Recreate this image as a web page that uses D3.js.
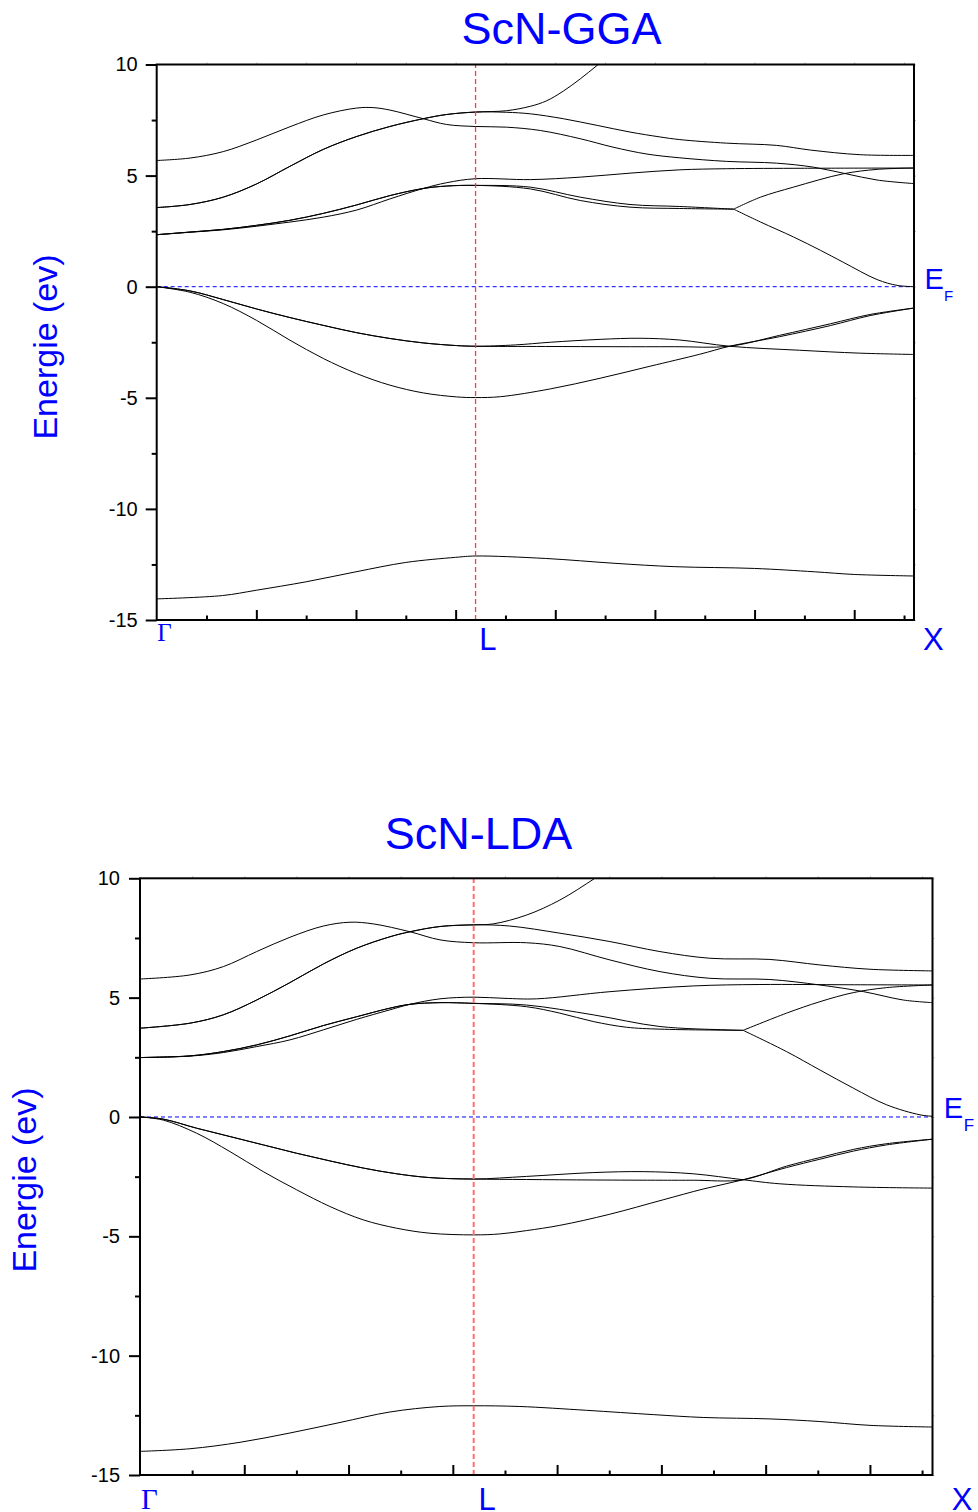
<!DOCTYPE html>
<html><head><meta charset="utf-8">
<script src="https://cdn.jsdelivr.net/npm/d3@7"></script>
<style>body{margin:0;background:#fff} svg{display:block}</style>
</head><body>
<script>
// ---------------- DATA ----------------
const yMajorTicks = [-15, -10, -5, 0, 5, 10];
const yMinorTicks = [-12.5, -7.5, -2.5, 2.5, 7.5];
const kMajorTicks = [1, 2, 3, 4, 5, 6, 7];
const kMinorTicks = [0.5, 1.5, 2.5, 3.5, 4.5, 5.5, 6.5, 7.5];
const kPointNames = ["Γ", "L", "X"];
const kPointPos = [0, 3.2, 7.6];
const titles = ["ScN-GGA", "ScN-LDA"];

// ---- GGA ----
const gga_core = [[0,-14.05],[0.66,-13.9],[1,-13.66],[1.5,-13.28],[2,-12.83],[2.5,-12.41],[3,-12.18],[3.2,-12.12],[3.9,-12.23],[4.6,-12.45],[5.2,-12.6],[6,-12.68],[6.6,-12.83],[7,-12.95],[7.6,-13.02]];
const gga_vGL_heavy = [[0,0],[0.335,-0.19],[0.668,-0.58],[1.0,-1.0],[1.338,-1.39],[1.672,-1.74],[2.007,-2.07],[2.34,-2.33],[2.675,-2.53],[3.01,-2.65],[3.2,-2.68]];
const gga_vGL_low = [[0,0],[0.335,-0.25],[0.668,-0.76],[1.0,-1.51],[1.338,-2.41],[1.672,-3.23],[2.007,-3.91],[2.34,-4.43],[2.675,-4.78],[3.01,-4.96],[3.2,-4.99]];
const gga_vLX_1 = [[3.2,-2.68],[3.9,-2.69],[4.6,-2.7],[5.2,-2.7],[5.75,-2.68],[6.25,-2.19],[6.76,-1.67],[7.16,-1.25],[7.6,-0.96]];
const gga_vLX_2 = [[3.2,-2.68],[3.6,-2.62],[3.95,-2.5],[4.45,-2.37],[4.85,-2.32],[5.25,-2.4],[5.75,-2.68],[6.45,-2.86],[7.05,-2.99],[7.6,-3.05]];
const gga_vLX_3 = [[3.2,-4.99],[3.45,-4.95],[3.95,-4.6],[4.45,-4.12],[4.95,-3.58],[5.45,-3.04],[5.75,-2.68],[6.25,-2.25],[6.76,-1.75],[7.16,-1.3],[7.6,-0.96]];
const gga_cGL_1 = [[0,5.68],[0.335,5.79],[0.668,6.08],[1.0,6.6],[1.338,7.2],[1.672,7.73],[2.007,8.04],[2.17,8.06],[2.34,7.95],[2.675,7.56],[2.91,7.30],[3.2,7.21]];
const gga_cGL_2 = [[0,3.56],[0.335,3.70],[0.668,4.03],[1.0,4.62],[1.338,5.42],[1.672,6.18],[2.007,6.76],[2.34,7.21],[2.675,7.56],[2.91,7.75],[3.2,7.86]];
const gga_cGL_3a = [[0,2.34],[0.335,2.46],[0.668,2.58],[1.0,2.76],[1.338,2.99],[1.672,3.3],[2.007,3.68],[2.34,4.1],[2.675,4.42],[2.91,4.53],[3.2,4.56]];
const gga_cGL_3b = [[0,2.34],[0.335,2.45],[0.668,2.56],[1.0,2.72],[1.338,2.91],[1.672,3.13],[2.007,3.45],[2.34,3.95],[2.675,4.42],[2.91,4.68],[3.2,4.86]];
const gga_cLX_1 = [[3.2,7.21],[3.51,7.18],[3.85,7.03],[4.25,6.66],[4.58,6.28],[4.92,5.97],[5.25,5.8],[5.72,5.64],[6.22,5.56],[6.59,5.38],[6.92,5.08],[7.23,4.8],[7.6,4.64]];
const gga_cLX_2up = [[3.2,7.86],[3.51,7.92],[3.75,8.12],[3.91,8.36],[4.08,8.8],[4.25,9.35],[4.42,9.96],[4.6,10.6]];
const gga_cLX_2a = [[3.2,7.86],[3.51,7.85],[3.75,7.78],[4.08,7.56],[4.42,7.26],[4.75,6.96],[5.05,6.74],[5.25,6.62],[5.72,6.46],[6.22,6.36],[6.56,6.15],[7.06,5.94],[7.6,5.91]];
const gga_cLX_3b = [[3.2,4.86],[3.75,4.82],[4.25,4.93],[4.75,5.11],[5.25,5.26],[5.72,5.31],[6.5,5.33],[7.6,5.34]];
const gga_cLX_3a1 = [[3.2,4.56],[3.75,4.48],[4.25,4.03],[4.75,3.7],[5.25,3.61],[5.79,3.49]];
const gga_cLX_3a2 = [[3.2,4.56],[3.75,4.4],[4.25,3.88],[4.75,3.58],[5.25,3.52],[5.79,3.49]];
const gga_cLX_dUp = [[5.79,3.49],[6.06,4.03],[6.39,4.48],[6.89,5.08],[7.23,5.28],[7.6,5.34]];
const gga_cLX_dDown = [[5.79,3.49],[6.06,2.91],[6.39,2.24],[6.66,1.64],[6.89,1.1],[7.23,0.32],[7.43,0.06],[7.6,0.0]];

// ---- LDA ----
const lda_core = [[0,-14.01],[0.479,-13.9],[0.959,-13.63],[1.438,-13.24],[1.918,-12.8],[2.397,-12.36],[2.876,-12.13],[3.2,-12.1],[3.643,-12.13],[4.283,-12.29],[4.922,-12.47],[5.401,-12.59],[6.04,-12.65],[6.52,-12.76],[7.0,-12.92],[7.6,-12.99]];
const lda_vGL_heavy = [[0,0],[0.223,-0.09],[0.543,-0.47],[0.863,-0.82],[1.182,-1.17],[1.502,-1.52],[1.821,-1.84],[2.141,-2.14],[2.461,-2.38],[2.78,-2.54],[3.2,-2.6]];
const lda_vGL_low = [[0,0],[0.223,-0.13],[0.543,-0.68],[0.863,-1.45],[1.182,-2.29],[1.502,-3.05],[1.821,-3.75],[2.141,-4.31],[2.461,-4.66],[2.78,-4.87],[3.2,-4.94]];
const lda_vLX_1 = [[3.2,-2.6],[3.707,-2.62],[4.346,-2.64],[5.017,-2.65],[5.305,-2.65],[5.784,-2.63],[6.2,-2.06],[6.52,-1.7],[6.84,-1.36],[7.16,-1.12],[7.6,-0.93]];
const lda_vLX_2 = [[3.2,-2.6],[3.707,-2.49],[4.346,-2.33],[4.825,-2.29],[5.305,-2.38],[5.784,-2.63],[6.136,-2.8],[6.84,-2.93],[7.6,-2.98]];
const lda_vLX_3 = [[3.2,-4.94],[3.45,-4.9],[3.707,-4.76],[4.027,-4.54],[4.5,-4.08],[5.017,-3.47],[5.4,-3.02],[5.784,-2.63],[6.2,-2.12],[6.52,-1.77],[6.84,-1.43],[7.16,-1.17],[7.6,-0.93]];
const lda_cGL_1 = [[0,5.78],[0.479,5.95],[0.799,6.30],[1.119,6.93],[1.438,7.53],[1.758,8.0],[2.014,8.16],[2.237,8.09],[2.589,7.76],[2.877,7.42],[3.2,7.30]];
const lda_cGL_2 = [[0,3.72],[0.479,3.93],[0.799,4.28],[1.119,4.9],[1.438,5.63],[1.758,6.41],[2.078,7.07],[2.397,7.55],[2.589,7.76],[2.877,7.98],[3.2,8.05]];
const lda_cGL_3a = [[0,2.49],[0.479,2.56],[0.799,2.74],[1.119,3.02],[1.438,3.40],[1.758,3.83],[2.078,4.20],[2.397,4.56],[2.589,4.72],[2.877,4.79],[3.2,4.76]];
const lda_cGL_3b = [[0,2.49],[0.479,2.55],[0.799,2.7],[1.119,2.95],[1.438,3.23],[1.758,3.65],[2.078,4.09],[2.397,4.49],[2.589,4.72],[2.877,4.95],[3.2,5.02]];
const lda_cLX_1 = [[3.2,7.30],[3.707,7.3],[4.027,7.14],[4.506,6.58],[4.986,6.09],[5.465,5.81],[6.04,5.76],[6.52,5.53],[6.94,5.25],[7.32,4.9],[7.6,4.79]];
const lda_cLX_2up = [[3.2,8.05],[3.387,8.09],[3.707,8.46],[4.027,9.09],[4.362,10.0],[4.6,10.7]];
const lda_cLX_2a = [[3.2,8.05],[3.547,8.0],[4.027,7.7],[4.506,7.35],[4.986,6.93],[5.465,6.65],[6.04,6.6],[6.52,6.37],[7.0,6.19],[7.6,6.12]];
const lda_cLX_3b = [[3.2,4.99],[3.5,4.97],[3.804,4.95],[4.506,5.25],[5.305,5.49],[5.945,5.55],[6.8,5.54],[7.6,5.53]];
const lda_cLX_3a1 = [[3.2,4.76],[3.707,4.69],[4.346,4.28],[4.986,3.79],[5.625,3.65],[5.784,3.63]];
const lda_cLX_3a2 = [[3.2,4.76],[3.707,4.62],[4.027,4.35],[4.346,4.0],[4.666,3.76],[4.986,3.68],[5.784,3.63]];
const lda_cLX_dUp = [[5.784,3.63],[6.2,4.35],[6.52,4.83],[6.84,5.21],[7.16,5.42],[7.6,5.53]];
const lda_cLX_dDown = [[5.784,3.63],[6.2,2.74],[6.52,1.97],[6.84,1.21],[7.16,0.51],[7.48,0.09],[7.6,0.03]];

// ---------------- DRAW ----------------
const W = 978, H = 1512;
const svg = d3.select("body").append("svg").attr("width", W).attr("height", H);
const SANS = "'Liberation Sans', Arial, Helvetica, sans-serif";
const SERIF = "'Liberation Serif', 'Times New Roman', serif";
const BLUE = "#0000ff";

function join(a, b) { return a.concat(b.slice(1)); }

const ggaBands = [
  gga_core,
  join(gga_vGL_heavy, gga_vLX_1), join(gga_vGL_heavy, gga_vLX_2), join(gga_vGL_low, gga_vLX_3),
  join(gga_cGL_1, gga_cLX_1), join(gga_cGL_2, gga_cLX_2up), join(gga_cGL_2, gga_cLX_2a),
  join(gga_cGL_3a, gga_cLX_3a1), join(gga_cGL_3a, gga_cLX_3a2), join(gga_cGL_3b, gga_cLX_3b),
  gga_cLX_dUp, gga_cLX_dDown
];
const ldaBands = [
  lda_core,
  join(lda_vGL_heavy, lda_vLX_1), join(lda_vGL_heavy, lda_vLX_2), join(lda_vGL_low, lda_vLX_3),
  join(lda_cGL_1, lda_cLX_1), join(lda_cGL_2, lda_cLX_2up), join(lda_cGL_2, lda_cLX_2a),
  join(lda_cGL_3a, lda_cLX_3a1), join(lda_cGL_3a, lda_cLX_3a2), join(lda_cGL_3b, lda_cLX_3b),
  lda_cLX_dUp, lda_cLX_dDown
];

function panel(cfg, bands) {
  const x = d3.scaleLinear().domain([0, 7.6]).range([cfg.left, cfg.right]);
  const y = d3.scaleLinear().domain([-15, 10]).range([cfg.bottom, cfg.top]);
  const g = svg.append("g");
  const clipId = "clip" + cfg.id;
  svg.append("clipPath").attr("id", clipId).append("rect")
    .attr("x", cfg.left).attr("y", cfg.top)
    .attr("width", cfg.right - cfg.left).attr("height", cfg.bottom - cfg.top);

  // Fermi level
  g.append("line").attr("x1", x(0)).attr("x2", x(7.6)).attr("y1", y(0)).attr("y2", y(0))
    .attr("stroke", BLUE).attr("stroke-width", 1).attr("stroke-dasharray", "4,3");

  const line = d3.line().x(d => x(d[0])).y(d => y(d[1])).curve(d3.curveCatmullRom.alpha(0.5));
  g.append("g").attr("clip-path", `url(#${clipId})`)
    .selectAll("path").data(bands).join("path")
    .attr("d", line).attr("fill", "none").attr("stroke", "#000").attr("stroke-width", 1);

  // L vertical
  g.append("line").attr("x1", x(3.2)).attr("x2", x(3.2)).attr("y1", y(-15)).attr("y2", y(10))
    .attr("stroke", cfg.lColor).attr("stroke-width", cfg.lWidth).attr("stroke-dasharray", "5,3");

  // Y axis major
  const ya = g.append("g").attr("transform", `translate(${cfg.left},0)`)
    .call(d3.axisLeft(y).tickValues(yMajorTicks).tickSize(11).tickPadding(cfg.tickPad).tickFormat(d => String(d)));
  ya.select(".domain").remove();
  ya.selectAll(".tick line").attr("stroke", "#000").attr("stroke-width", 2);
  ya.selectAll(".tick text").attr("font-family", SANS).attr("font-size", 20).attr("fill", "#000");
  // Y axis minor
  const ym = g.append("g").attr("transform", `translate(${cfg.left},0)`)
    .call(d3.axisLeft(y).tickValues(yMinorTicks).tickSize(5).tickFormat(""));
  ym.select(".domain").remove();
  ym.selectAll(".tick line").attr("stroke", "#000").attr("stroke-width", 2);

  // X axis (ticks inward)
  const xa = g.append("g").attr("transform", `translate(0,${cfg.bottom})`)
    .call(d3.axisBottom(x).tickValues(kMajorTicks).tickSize(-10).tickFormat(""));
  xa.select(".domain").remove();
  xa.selectAll(".tick line").attr("stroke", "#000").attr("stroke-width", 2);
  const xm = g.append("g").attr("transform", `translate(0,${cfg.bottom})`)
    .call(d3.axisBottom(x).tickValues(kMinorTicks).tickSize(-4.5).tickFormat(""));
  xm.select(".domain").remove();
  xm.selectAll(".tick line").attr("stroke", "#000").attr("stroke-width", 2);

  // faint top / right ticks
  const xt = g.append("g").attr("transform", `translate(0,${cfg.top})`)
    .call(d3.axisTop(x).tickValues(kMajorTicks.concat(kMinorTicks)).tickSize(2).tickFormat(""));
  xt.select(".domain").remove();
  xt.selectAll(".tick line").attr("stroke", "#bbb").attr("stroke-width", 1);
  const yr = g.append("g").attr("transform", `translate(${cfg.right},0)`)
    .call(d3.axisRight(y).tickValues(yMajorTicks.concat(yMinorTicks)).tickSize(2).tickFormat(""));
  yr.select(".domain").remove();
  yr.selectAll(".tick line").attr("stroke", "#bbb").attr("stroke-width", 1);

  // frame
  g.append("rect").attr("x", cfg.left).attr("y", cfg.top)
    .attr("width", cfg.right - cfg.left).attr("height", cfg.bottom - cfg.top)
    .attr("fill", "none").attr("stroke", "#000").attr("stroke-width", 2);

  // Title
  g.append("text").attr("x", cfg.titleX).attr("y", cfg.titleY).attr("text-anchor", "middle")
    .attr("font-family", SANS).attr("font-size", 45).attr("fill", BLUE).text(cfg.title);
  // Y label
  g.append("text").attr("transform", `translate(${cfg.ylabX},${cfg.ylabY}) rotate(-90)`)
    .attr("text-anchor", "middle").attr("font-family", SANS).attr("font-size", 34)
    .attr("fill", BLUE).text("Energie (ev)");

  // k-point labels
  kPointNames.forEach((name, i) => {
    const isG = i === 0;
    g.append("text")
      .attr("x", x(kPointPos[i]) + cfg.kOff[i])
      .attr("y", isG ? cfg.gBase : cfg.kBase)
      .attr("font-family", isG ? SERIF : SANS)
      .attr("font-size", isG ? cfg.gSize : 31)
      .attr("fill", BLUE).text(name);
  });

  // E_F
  g.append("text").attr("x", cfg.right + cfg.eOff).attr("y", y(0) + cfg.eDy)
    .attr("font-family", SANS).attr("font-size", 29).attr("fill", BLUE).text("E");
  g.append("text").attr("x", cfg.right + cfg.fOff).attr("y", y(0) + cfg.fDy)
    .attr("font-family", SANS).attr("font-size", cfg.fSize).attr("fill", BLUE).text("F");
}

panel({
  id: "gga", title: titles[0], left: 156.7, right: 914, top: 64.5, bottom: 620,
  titleX: 561.5, titleY: 44, ylabX: 57, ylabY: 347, tickPad: 8,
  lColor: "#ff3b3b", lWidth: 1.3,
  kOff: [0.5, 3.8, 9], gBase: 641, kBase: 650, gSize: 25,
  eOff: 10.5, eDy: 2.6, fOff: 30, fDy: 14.3, fSize: 15
}, ggaBands);

panel({
  id: "lda", title: titles[1], left: 140, right: 932.5, top: 878.3, bottom: 1475,
  titleX: 478.5, titleY: 849, ylabX: 36, ylabY: 1180, tickPad: 9,
  lColor: "#ff6f6f", lWidth: 2,
  kOff: [1, 4.7, 19.2], gBase: 1509, kBase: 1509.5, gSize: 29,
  eOff: 11.2, eDy: 1.2, fOff: 31.2, fDy: 13.6, fSize: 17
}, ldaBands);
</script>
</body></html>
